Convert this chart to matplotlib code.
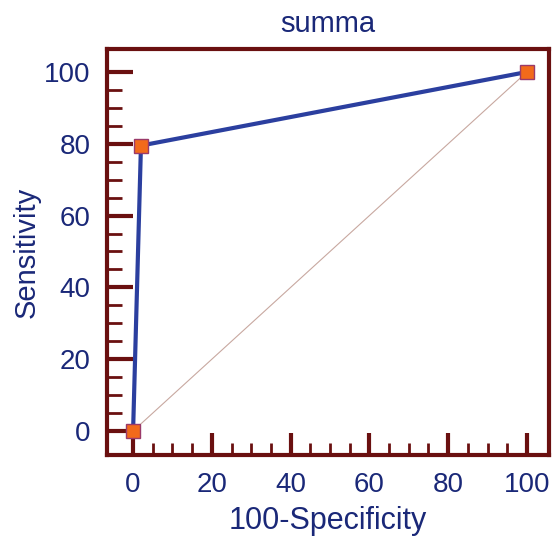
import matplotlib
matplotlib.use("Agg")
import matplotlib.pyplot as plt
from matplotlib.ticker import FixedLocator

# ROC points
fpr = [0, 2, 100]      # 100-Specificity
tpr = [0, 79.5, 100]   # Sensitivity
diag = [0, 100]

x_ticks = [0, 20, 40, 60, 80, 100]
y_ticks = [0, 20, 40, 60, 80, 100]
minor_ticks = [5, 10, 15, 25, 30, 35, 45, 50, 55, 65, 70, 75, 85, 90, 95]

frame = "#6a1010"
navy = "#1a2878"
line_blue = "#2b3f9f"

plt.rcParams["font.family"] = ["Liberation Sans", "DejaVu Sans"]

fig = plt.figure(figsize=(5.52, 5.36), dpi=100)
ax = fig.add_axes([0.194, 0.151, 0.8006, 0.7576])

ax.plot(diag, diag, color="#c8a8a0", lw=0.8, zorder=1)
ax.plot(fpr, tpr, color=line_blue, lw=3, zorder=2)
ax.plot(fpr, tpr, ls="none", marker="s", ms=10, mfc="#f26a1b",
        mec="#9a3a6a", mew=1, zorder=3, clip_on=False)

ax.set_xlim(-6.6, 105.6)
ax.set_ylim(-6.7, 106.4)
ax.set_xticks(x_ticks)
ax.set_yticks(y_ticks)
ax.xaxis.set_minor_locator(FixedLocator(minor_ticks))
ax.yaxis.set_minor_locator(FixedLocator(minor_ticks))

for s in ax.spines.values():
    s.set_color(frame)
    s.set_linewidth(3)

ax.tick_params(which="major", direction="in", width=3,
               color=frame, labelcolor=navy, labelsize=20)
ax.tick_params(which="minor", direction="in", width=2, color=frame)
ax.tick_params(axis="y", which="major", length=19, pad=12)
ax.tick_params(axis="y", which="minor", length=11)
ax.tick_params(axis="x", which="major", length=16, pad=12)
ax.tick_params(axis="x", which="minor", length=9)

ax.set_title("summa", color=navy, fontsize=21, pad=12)
ax.set_xlabel("100-Specificity", color=navy, fontsize=22, labelpad=6)
ax.set_ylabel("Sensitivity", color=navy, fontsize=21, labelpad=2)

fig.savefig("out.png", dpi=100, facecolor="white")
